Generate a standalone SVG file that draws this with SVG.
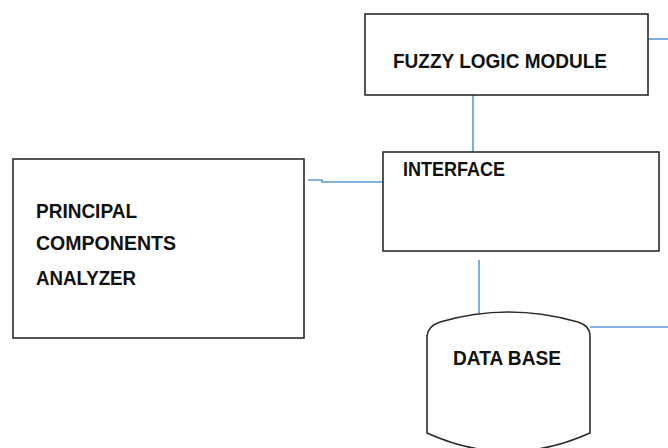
<svg xmlns="http://www.w3.org/2000/svg" width="668" height="448" viewBox="0 0 668 448">
  <style>
    .box { fill: #ffffff; stroke: #2b2b2b; stroke-width: 1.6; }
    .lbl { font-family: "Liberation Sans Narrow", "Liberation Sans", Arial, sans-serif; font-weight: bold; font-size: 21px; fill: #111111; }
    .wire { fill: none; stroke: #5b9bd5; stroke-width: 1.6; }
  </style>
  <rect width="668" height="448" fill="#ffffff"/>

  <g id="connectors">
    <path class="wire" d="M648,39 H668"/>
    <path class="wire" d="M473,95 V152"/>
    <path class="wire" d="M383,182 H322 V180 H308"/>
    <path class="wire" d="M479,260 V314"/>
    <path class="wire" d="M590,327 H668"/>
  </g>

  <g id="fuzzy-logic-module">
    <rect class="box" x="365" y="14" width="283" height="81"/>
    <text class="lbl" x="393" y="68" textLength="214" lengthAdjust="spacingAndGlyphs">FUZZY LOGIC MODULE</text>
  </g>

  <g id="interface">
    <rect class="box" x="383" y="152" width="276" height="99"/>
    <text class="lbl" x="403" y="176" textLength="102" lengthAdjust="spacingAndGlyphs">INTERFACE</text>
  </g>

  <g id="principal-components-analyzer">
    <rect class="box" x="13" y="159" width="291" height="179"/>
    <text class="lbl" x="36" y="218" textLength="101" lengthAdjust="spacingAndGlyphs">PRINCIPAL</text>
    <text class="lbl" x="36" y="250" textLength="140" lengthAdjust="spacingAndGlyphs">COMPONENTS</text>
    <text class="lbl" x="36" y="285" textLength="100" lengthAdjust="spacingAndGlyphs">ANALYZER</text>
  </g>

  <g id="data-base">
    <path class="box" d="M427,433 V336 Q428,326 440,322 Q508,302 578,322 Q590,326 590,336 V433 Q508,470 427,433 Z"/>
    <text class="lbl" x="453" y="365" textLength="108" lengthAdjust="spacingAndGlyphs">DATA BASE</text>
  </g>
</svg>
